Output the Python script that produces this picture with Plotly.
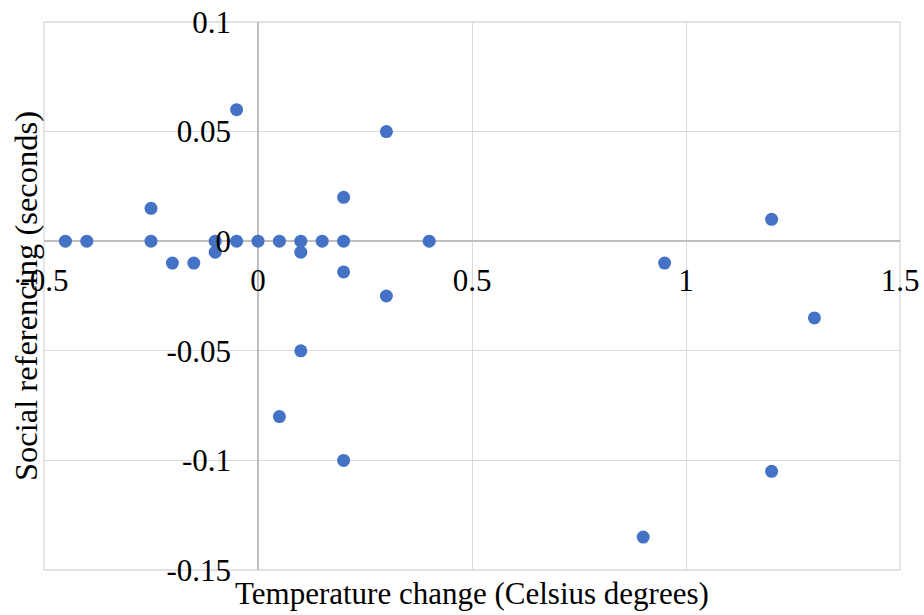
import plotly.graph_objects as go

# Temperature change (°C) vs. social referencing (s)
temp_change = [-0.45, -0.40, -0.25, -0.25, -0.20, -0.15, -0.10, -0.10, -0.05, -0.05,
               0.00, 0.05, 0.05, 0.10, 0.10, 0.10, 0.15, 0.20, 0.20, 0.20,
               0.20, 0.30, 0.30, 0.40, 0.95, 1.20, 1.30, 0.90, 1.20]
social_ref = [0.0, 0.0, 0.015, 0.0, -0.01, -0.01, 0.0, -0.005, 0.06, 0.0,
              0.0, 0.0, -0.08, 0.0, -0.005, -0.05, 0.0, 0.02, 0.0, -0.014,
              -0.10, 0.05, -0.025, 0.0, -0.01, 0.01, -0.035, -0.135, -0.105]

x_tickvals = [-0.5, 0, 0.5, 1, 1.5]
x_ticktext = ["-0.5", "0", "0.5", "1", "1.5"]
y_tickvals = [-0.15, -0.1, -0.05, 0, 0.05, 0.1]
y_ticktext = ["-0.15", "-0.1", "-0.05", "0", "0.05", "0.1"]

FONT = "Liberation Serif"
FSIZE = 31
GRID = "#D9D9D9"
ZERO = "#BFBFBF"

fig = go.Figure()
fig.add_trace(go.Scatter(
    x=temp_change, y=social_ref, mode="markers",
    marker=dict(size=13, color="#4472C4", line=dict(width=0)),
    showlegend=False,
))

fig.update_layout(
    width=924, height=615,
    margin=dict(l=44, r=24, t=22, b=45, autoexpand=False),
    paper_bgcolor="white", plot_bgcolor="white",
    font=dict(family=FONT, size=FSIZE, color="black"),
    xaxis=dict(
        range=[-0.5, 1.5], tickvals=x_tickvals, ticktext=x_ticktext,
        showgrid=True, gridcolor=GRID, gridwidth=1.3,
        zeroline=True, zerolinecolor=ZERO, zerolinewidth=1.5,
        anchor="free", position=0.6, showline=False, ticks="",
        ticklabelstandoff=18, automargin=False,
        tickfont=dict(family=FONT, size=FSIZE, color="black"),
    ),
    yaxis=dict(
        range=[-0.15, 0.1], tickvals=y_tickvals, ticktext=y_ticktext,
        showgrid=True, gridcolor=GRID, gridwidth=1.3,
        zeroline=True, zerolinecolor=ZERO, zerolinewidth=1.5,
        anchor="free", position=0.25, showline=False, ticks="",
        ticklabelstandoff=27, automargin=False,
        tickfont=dict(family=FONT, size=FSIZE, color="black"),
    ),
    shapes=[dict(type="rect", xref="paper", yref="paper", x0=0, x1=1, y0=0, y1=1,
                 line=dict(color=GRID, width=1.3), layer="below")],
    annotations=[
        dict(text="Temperature change (Celsius degrees)", xref="paper", yref="paper",
             x=0.5, y=0, yshift=-23, showarrow=False,
             font=dict(family=FONT, size=FSIZE, color="black"), yanchor="middle"),
        dict(text="Social referencing (seconds)", xref="paper", yref="paper",
             x=0, y=0.5, xshift=-18, textangle=-90, showarrow=False,
             font=dict(family=FONT, size=32.5, color="black"), xanchor="center"),
    ],
)

fig.write_html("out.html")
